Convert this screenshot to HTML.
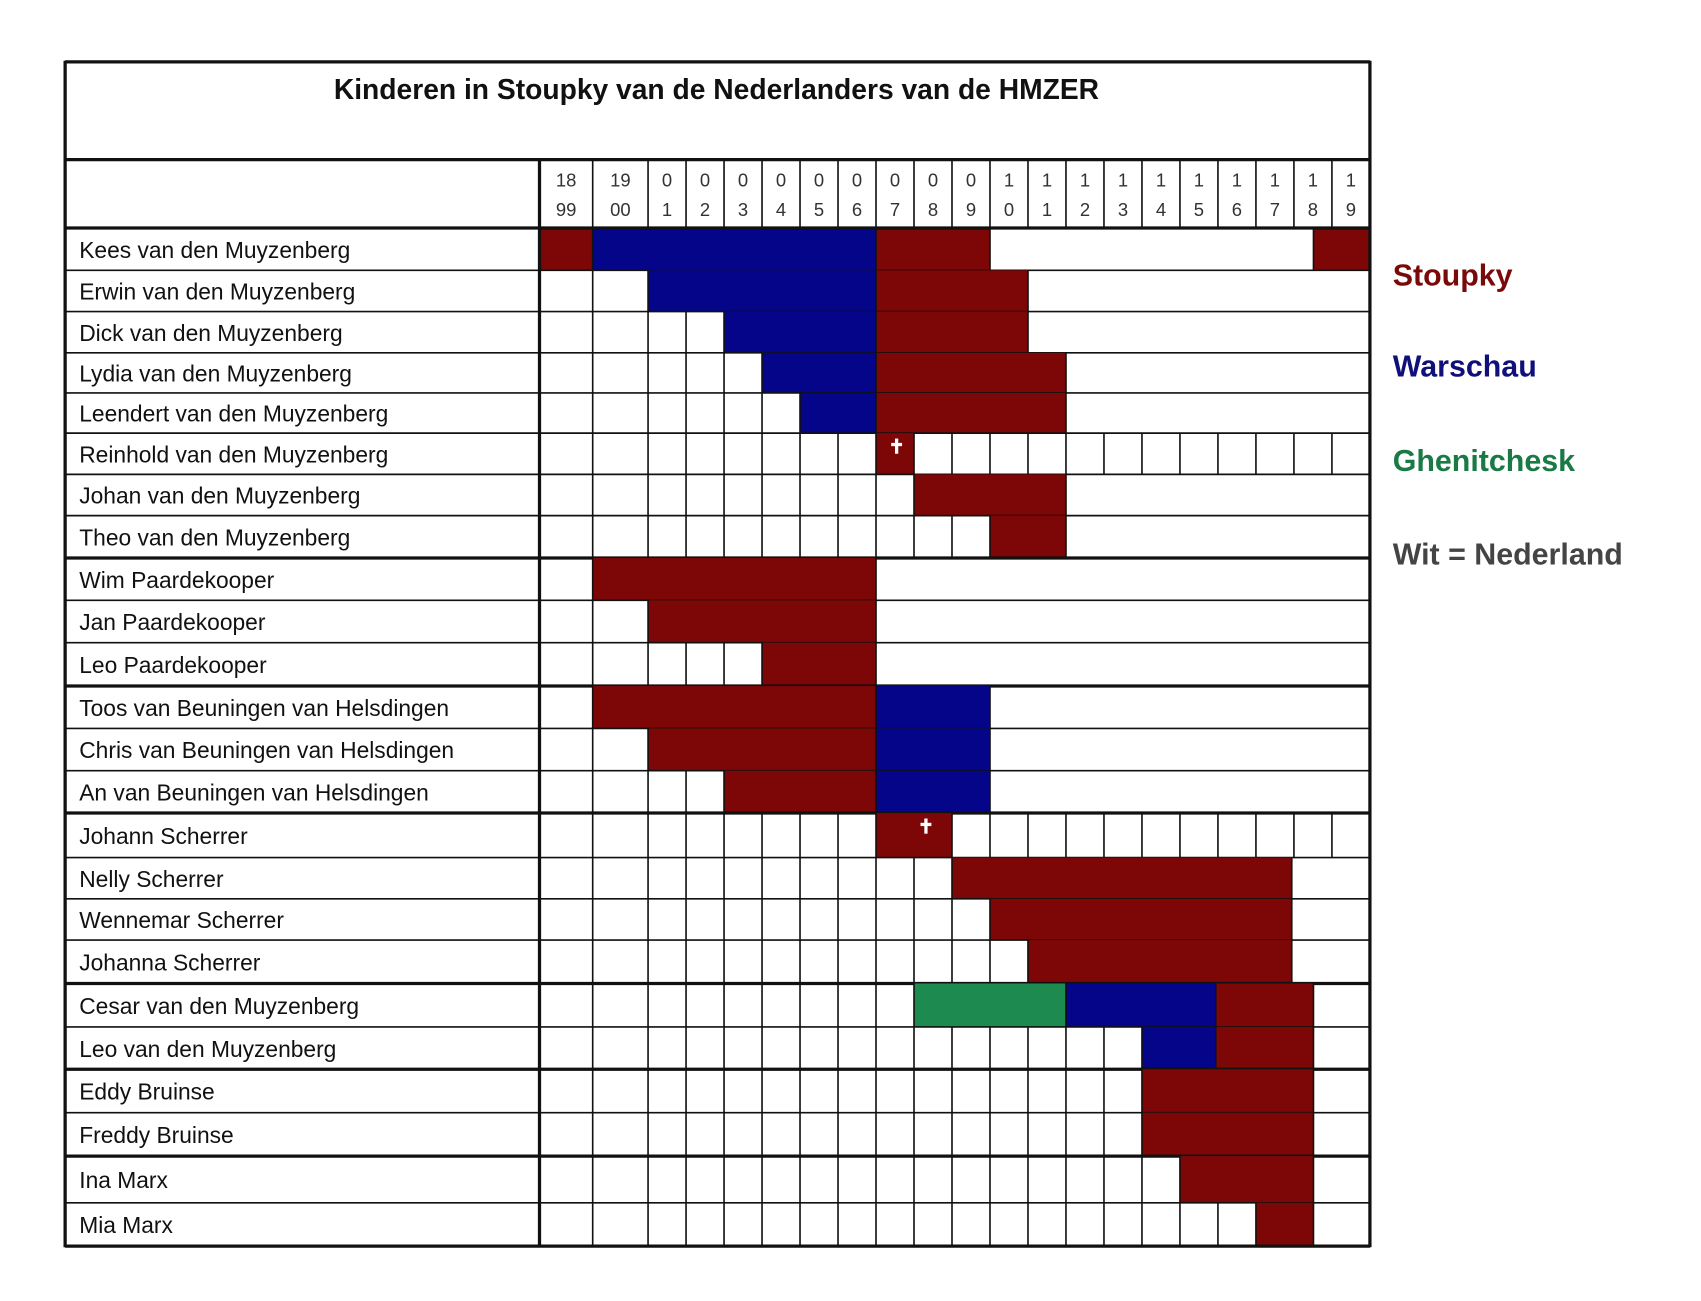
<!DOCTYPE html>
<html><head><meta charset="utf-8"><style>
html,body{margin:0;padding:0;background:#fff;}
svg{display:block}
text{font-family:"Liberation Sans",sans-serif}
</style></head><body>
<svg id="s" width="1701" height="1301" viewBox="0 0 1567 1198.5" preserveAspectRatio="none" xmlns="http://www.w3.org/2000/svg">
<rect width="1567" height="1199" fill="#fff"/>
<text x="660" y="91" font-size="26" font-weight="bold" text-anchor="middle" fill="#111">Kinderen in Stoupky van de Nederlanders van de HMZER</text>
<text x="1283" y="263" font-size="28" font-weight="bold" fill="#7a0a0a">Stoupky</text>
<text x="1283" y="347" font-size="28" font-weight="bold" fill="#10107a">Warschau</text>
<text x="1283" y="434" font-size="28" font-weight="bold" fill="#1a7a45">Ghenitchesk</text>
<text x="1283" y="520" font-size="28" font-weight="bold" fill="#444">Wit = Nederland</text>
<g id="g"></g>
</svg>
<script>
var cols=[497,546,597,632,667,702,737,772,807,842,877,912,947,982,1017,1052,1087,1122,1157,1192,1227,1262];
var hdr=[["18","99"],["19","00"],["0","1"],["0","2"],["0","3"],["0","4"],["0","5"],["0","6"],["0","7"],["0","8"],["0","9"],["1","0"],["1","1"],["1","2"],["1","3"],["1","4"],["1","5"],["1","6"],["1","7"],["1","8"],["1","9"]];
var R="#7d0606",B="#05058a",G="#1d8a50";
var rows=[
["Kees van den Muyzenberg",210,249,[[497,546,R],[546,807,B],[807,912,R],[912,1210,"w"],[1210,1262,R]]],
["Erwin van den Muyzenberg",249,287,[[497,597,"g"],[597,807,B],[807,947,R],[947,1262,"w"]]],
["Dick van den Muyzenberg",287,325,[[497,667,"g"],[667,807,B],[807,947,R],[947,1262,"w"]]],
["Lydia van den Muyzenberg",325,362,[[497,702,"g"],[702,807,B],[807,982,R],[982,1262,"w"]]],
["Leendert van den Muyzenberg",362,399,[[497,737,"g"],[737,807,B],[807,982,R],[982,1262,"w"]]],
["Reinhold van den Muyzenberg",399,437,[[497,807,"g"],[807,842,R],[842,1262,"g"]],826],
["Johan van den Muyzenberg",437,475,[[497,842,"g"],[842,982,R],[982,1262,"w"]]],
["Theo van den Muyzenberg",475,514,[[497,912,"g"],[912,982,R],[982,1262,"w"]]],
["Wim Paardekooper",514,553,[[497,546,"g"],[546,807,R],[807,1262,"w"]]],
["Jan Paardekooper",553,592,[[497,597,"g"],[597,807,R],[807,1262,"w"]]],
["Leo Paardekooper",592,632,[[497,702,"g"],[702,807,R],[807,1262,"w"]]],
["Toos van Beuningen van Helsdingen",632,671,[[497,546,"g"],[546,807,R],[807,912,B],[912,1262,"w"]]],
["Chris van Beuningen van Helsdingen",671,710,[[497,597,"g"],[597,807,R],[807,912,B],[912,1262,"w"]]],
["An van Beuningen van Helsdingen",710,749,[[497,667,"g"],[667,807,R],[807,912,B],[912,1262,"w"]]],
["Johann Scherrer",749,790,[[497,807,"g"],[807,877,R],[877,1262,"g"]],853],
["Nelly Scherrer",790,828,[[497,877,"g"],[877,1190,R],[1190,1262,"w"]]],
["Wennemar Scherrer",828,866,[[497,912,"g"],[912,1190,R],[1190,1262,"w"]]],
["Johanna Scherrer",866,906,[[497,947,"g"],[947,1190,R],[1190,1262,"w"]]],
["Cesar van den Muyzenberg",906,946,[[497,842,"g"],[842,982,G],[982,1120,B],[1120,1210,R],[1210,1262,"w"]]],
["Leo van den Muyzenberg",946,985,[[497,1052,"g"],[1052,1120,B],[1120,1210,R],[1210,1262,"w"]]],
["Eddy Bruinse",985,1025,[[497,1052,"g"],[1052,1210,R],[1210,1262,"w"]]],
["Freddy Bruinse",1025,1065,[[497,1052,"g"],[1052,1210,R],[1210,1262,"w"]]],
["Ina Marx",1065,1108,[[497,1087,"g"],[1087,1210,R],[1210,1262,"w"]]],
["Mia Marx",1108,1148,[[497,1157,"g"],[1157,1210,R],[1210,1262,"w"]]]
];
var thick=[57,147,210,514,632,749,906,985,1065,1148];
var o="";
function L(x1,y1,x2,y2,w){o+='<line x1="'+x1+'" y1="'+y1+'" x2="'+x2+'" y2="'+y2+'" stroke="#111" stroke-width="'+w+'"/>';}
for(var i=0;i<hdr.length;i++){var cx=(cols[i]+cols[i+1])/2;
o+='<text x="'+cx+'" y="172" font-size="17" text-anchor="middle" fill="#333">'+hdr[i][0]+'</text>';
o+='<text x="'+cx+'" y="199" font-size="17" text-anchor="middle" fill="#333">'+hdr[i][1]+'</text>';
if(i>0)L(cols[i],147,cols[i],210,1.5);}
rows.forEach(function(r){var y1=r[1],y2=r[2];
r[3].forEach(function(s){if(s[2]!="g"&&s[2]!="w")o+='<rect x="'+s[0]+'" y="'+y1+'" width="'+(s[1]-s[0])+'" height="'+(y2-y1)+'" fill="'+s[2]+'"/>';});
r[3].forEach(function(s){ if(s[0]>497)L(s[0],y1,s[0],y2,1.5);
 if(s[2]=="g")cols.forEach(function(c){if(c>s[0]&&c<s[1])L(c,y1,c,y2,1.5);});});
if(r[4]){var cx=r[4],cy=y1+10;o+='<rect x="'+(cx-1.5)+'" y="'+(cy-5)+'" width="3" height="14" fill="#fff"/><rect x="'+(cx-5)+'" y="'+(cy-1)+'" width="10" height="3" fill="#fff"/>';}
o+='<text x="73" y="'+((y1+y2)/2+8)+'" font-size="21" fill="#111">'+r[0]+'</text>';
L(60,y2,1262,y2,thick.indexOf(y2)>=0?3:1.5);
});
L(60,57,1262,57,3);L(60,147,1262,147,3);L(60,210,1262,210,3);
L(60,56,60,1149,3);L(1262,56,1262,1149,3);L(497,147,497,1149,3);
document.getElementById("g").innerHTML=o;
</script>
</body></html>
